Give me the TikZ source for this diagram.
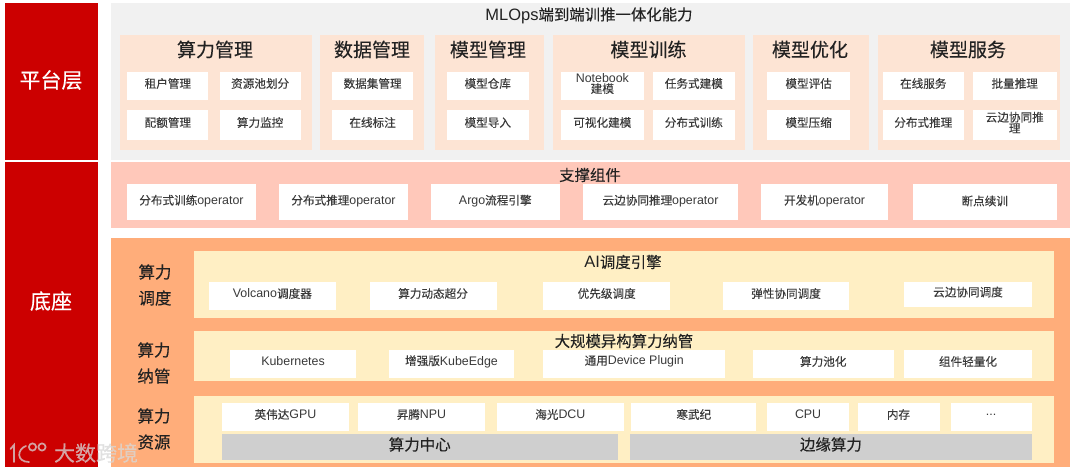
\documentclass[tikz,border=0pt]{standalone}
\usepackage{fontspec}
\setmainfont{Noto Sans CJK SC}
\newfontfamily\latfont[Scale=1.07]{Liberation Sans}
\newcommand\lat[1]{{\latfont #1}}
\definecolor{redbar}{HTML}{CC0000}
\definecolor{graypanel}{HTML}{F1F1F1}
\definecolor{peach}{HTML}{FDE4D4}
\definecolor{pinkpanel}{HTML}{FFC8BA}
\definecolor{orangepanel}{HTML}{FFAD7A}
\definecolor{creampanel}{HTML}{FFEFC4}
\definecolor{graybar}{HTML}{CFCFCF}
\definecolor{ink}{HTML}{222222}
\definecolor{inksoft}{HTML}{3A3A3A}
\definecolor{markgray}{HTML}{D8D8D8}
\tikzset{
  x=1pt,y=-1pt,
  panel/.style={inner sep=0pt,outer sep=0pt,draw=none},
  whitebox/.style={panel,fill=white,text=inksoft,font=\fontsize{11.6}{11}\selectfont\addfontfeature{FakeBold=0.15},align=center},
  barbox/.style={panel,fill=graybar,text=ink,font=\fontsize{15.5}{15.5}\selectfont\addfontfeature{FakeBold=0.2}},
  sidebox/.style={panel,fill=redbar,text=white,font=\fontsize{21}{21}\selectfont\addfontfeature{FakeBold=0.4}},
  grouptitle/.style={text=ink,font=\fontsize{19}{19}\selectfont\addfontfeature{FakeBold=0.2},inner sep=0pt},
  sectitle/.style={text=ink,font=\fontsize{15.4}{15.4}\selectfont\addfontfeature{FakeBold=0.1},inner sep=0pt},
  rowlabel/.style={text=ink,font=\fontsize{16.5}{26}\selectfont\addfontfeature{FakeBold=0.25},align=center,inner sep=0pt},
  marktext/.style={text=markgray,opacity=.75,font=\fontsize{21}{21}\selectfont\addfontfeature{FakeBold=0.2},inner sep=0pt},
  markline/.style={draw=markgray,opacity=.75,line width=1.7pt,line cap=round},
}
\def\txtup{2.5pt}
% name, x1, y1, x2, y2, style, text
\newcommand\bx[7]{\path[#6] (#2,#3) rectangle (#4,#5);
  \node[#6,fill=none,anchor=center,yshift=\txtup] (#1) at ({(#2+#4)/2},{(#3+#5)/2}) {#7};}
\begin{document}
\begin{tikzpicture}
\useasboundingbox[fill=white] (0,0) rectangle (1080,473);
% side bars
\bx{side1}{4.5}{3}{98}{160}{sidebox}{}
\node[sidebox,fill=none] (ptc) at (51,80) {平台层};
\bx{side2}{4.5}{162}{98}{467}{sidebox}{}
\node[sidebox,fill=none] (dz) at (51,301) {底座};
% platform
\bx{plat}{111}{3}{1069.6}{160}{panel,fill=graypanel}{}
\node[sectitle] (plattitle) at (589,15.5) {\lat{MLOps}端到端训推一体化能力};
\bx{g1}{120}{35}{311.6}{150}{panel,fill=peach}{}
\bx{g2}{320}{35}{423.6}{150}{panel,fill=peach}{}
\bx{g3}{434.6}{35}{544}{150}{panel,fill=peach}{}
\bx{g4}{553}{35}{745}{150}{panel,fill=peach}{}
\bx{g5}{752.8}{35}{868.9}{150}{panel,fill=peach}{}
\bx{g6}{878}{35}{1060}{150}{panel,fill=peach}{}
\node[grouptitle] (t1) at (215,49.5) {算力管理};
\node[grouptitle] (t2) at (372,49.5) {数据管理};
\node[grouptitle] (t3) at (488,49.5) {模型管理};
\node[grouptitle] (t4) at (648.5,49.5) {模型训练};
\node[grouptitle] (t5) at (810,49.5) {模型优化};
\node[grouptitle] (t6) at (968,49.5) {模型服务};
\bx{a1}{127.4}{72}{208.3}{100}{whitebox}{租户管理}
\bx{a2}{219.7}{72}{300.6}{100}{whitebox}{资源池划分}
\bx{a3}{127.4}{110}{208.3}{140}{whitebox}{配额管理}
\bx{a4}{219.7}{110}{300.6}{140}{whitebox}{算力监控}
\bx{b1}{332}{72}{413.2}{100}{whitebox}{数据集管理}
\bx{b2}{332}{110}{413.2}{140}{whitebox}{在线标注}
\bx{c1}{447}{72}{528.6}{100}{whitebox}{模型仓库}
\bx{c2}{447}{110}{528.6}{140}{whitebox}{模型导入}
\bx{d1}{560.7}{72}{644}{100}{whitebox}{\lat{Notebook}\\建模}
\bx{d2}{653}{72}{734.6}{100}{whitebox}{任务式建模}
\bx{d3}{560.7}{110}{644}{140}{whitebox}{可视化建模}
\bx{d4}{653}{110}{734.6}{140}{whitebox}{分布式训练}
\bx{e1}{767.3}{72}{850}{100}{whitebox}{模型评估}
\bx{e2}{767.3}{110}{850}{140}{whitebox}{模型压缩}
\bx{f1}{882.6}{72}{964}{100}{whitebox}{在线服务}
\bx{f2}{972.9}{72}{1056.5}{100}{whitebox}{批量推理}
\bx{f3}{882.6}{110}{964}{140}{whitebox}{分布式推理}
\bx{f4}{972.9}{110}{1056.5}{140}{whitebox}{云边协同推\\理}
% support
\def\txtup{1pt}
\bx{sup}{111}{162}{1069.6}{228}{panel,fill=pinkpanel}{}
\node[sectitle] (suptitle) at (590,175) {支撑组件};
\bx{s1}{127.4}{184}{255.5}{220}{whitebox}{分布式训练\lat{operator}}
\bx{s2}{279}{184}{408}{220}{whitebox}{分布式推理\lat{operator}}
\bx{s3}{431}{184}{559.6}{220}{whitebox}{\lat{Argo}流程引擎}
\bx{s4}{583}{184}{738}{220}{whitebox}{云边协同推理\lat{operator}}
\bx{s5}{761.4}{184}{887.8}{220}{whitebox}{开发机\lat{operator}}
\bx{s6}{913}{184}{1056.5}{220}{whitebox}{断点续训}
% base
\def\txtup{2.5pt}
\bx{base}{111}{238}{1069.6}{467}{panel,fill=orangepanel}{}
\bx{y1}{193.9}{251}{1053.8}{318}{panel,fill=creampanel}{}
\bx{y2}{193.9}{331}{1053.8}{381}{panel,fill=creampanel}{}
\bx{y3}{193.9}{396}{1053.8}{463}{panel,fill=creampanel}{}
\node[rowlabel] (l1) at (155,285) {算力\\调度};
\node[rowlabel] (l2) at (154,363) {算力\\纳管};
\node[rowlabel] (l3) at (154,429) {算力\\资源};
\node[sectitle] (y1t) at (623,262) {\lat{AI}调度引擎};
\node[sectitle] (y2t) at (624,341) {大规模异构算力纳管};
\bx{h1}{209}{282}{335.7}{310}{whitebox}{\lat{Volcano}调度器}
\bx{h2}{369.5}{282}{496.6}{310}{whitebox}{算力动态超分}
\bx{h3}{543.4}{282}{670}{310}{whitebox}{优先级调度}
\bx{h4}{723.2}{282}{848.9}{310}{whitebox}{弹性协同调度}
\bx{h5}{904.3}{282}{1031.7}{307}{whitebox}{云边协同调度}
\bx{i1}{229.7}{350}{356.4}{378}{whitebox}{\lat{Kubernetes}}
\bx{i2}{389}{350}{514}{378}{whitebox}{增强版\lat{KubeEdge}}
\bx{i3}{543.4}{350}{725}{378}{whitebox}{通用\lat{Device Plugin}}
\bx{i4}{752.5}{350}{894}{378}{whitebox}{算力池化}
\bx{i5}{904.3}{350}{1031.7}{378}{whitebox}{组件轻量化}
\bx{j1}{222}{403}{348.8}{431}{whitebox}{英伟达\lat{GPU}}
\bx{j2}{358}{403}{484.9}{431}{whitebox}{昇腾\lat{NPU}}
\bx{j3}{497}{403}{623.7}{431}{whitebox}{海光\lat{DCU}}
\bx{j4}{631.3}{403}{756.3}{431}{whitebox}{寒武纪}
\bx{j5}{767.3}{403}{848.9}{431}{whitebox}{\lat{CPU}}
\bx{j6}{857.5}{403}{939.5}{431}{whitebox}{内存}
\bx{j7}{950.5}{403}{1031.7}{431}{whitebox}{\lat{...}}
\bx{k1}{222}{434}{617.5}{460}{barbox}{算力中心}
\bx{k2}{630.2}{434}{1031.7}{460}{barbox}{边缘算力}
% watermark
\node[marktext] (wm) at (96,453) {大数跨境};
\draw[markline] (10.5,449) -- (14,445) -- (14,462);
\draw[markline] (26,446) .. controls (17,449) and (16,462) .. (29,462);
\draw[markline] (32.5,447) circle (3.6);
\draw[markline] (42,447) circle (3.6);
\end{tikzpicture}
\end{document}
